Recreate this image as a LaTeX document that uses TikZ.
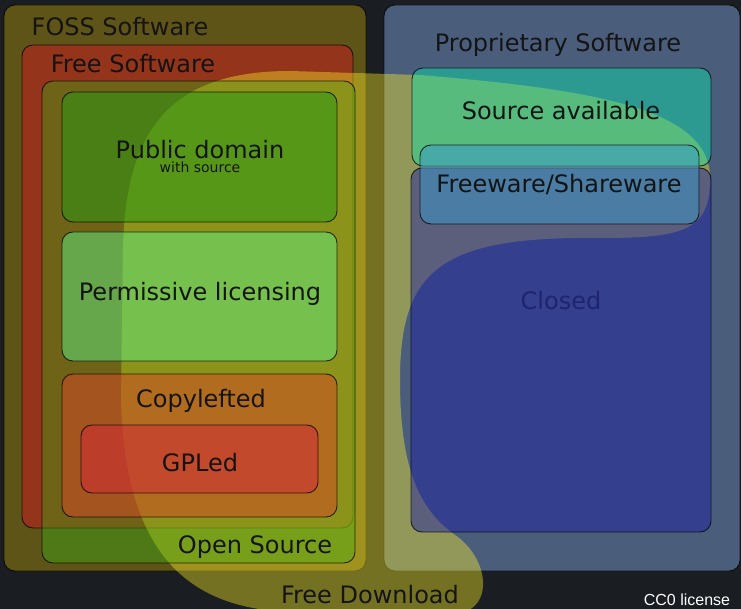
\documentclass[tikz,border=0pt]{standalone}
\usepackage{fontspec}
\setmainfont{DejaVu Sans}
\newfontfamily\ccfont{Liberation Sans}
\definecolor{bgc}{RGB}{26,29,33}
\definecolor{fossc}{RGB}{95,84,24}
\definecolor{propc}{RGB}{74,94,124}
\definecolor{fsc}{RGB}{147,52,27}
\definecolor{dlc}{RGB}{255,240,40}
\definecolor{osc}{RGB}{52,182,19}
\definecolor{pdc}{RGB}{36,156,20}
\definecolor{plc}{RGB}{94,251,140}
\definecolor{clc}{RGB}{218,70,36}
\definecolor{gplc}{RGB}{210,40,55}
\definecolor{sac}{RGB}{7,237,176}
\definecolor{fwc}{RGB}{58,154,205}
\definecolor{closedc}{RGB}{27,27,166}
\definecolor{closedtxt}{RGB}{30,36,110}
\begin{document}
\begin{tikzpicture}[x=1pt,y=-1pt,
  box/.style={draw=black,draw opacity=0.75,line width=0.9pt,rounded corners=11pt},
  lbl/.style={font=\fontsize{24}{28}\selectfont,anchor=base,inner sep=0pt,text=black!92}]
\useasboundingbox (0,0) rectangle (741,609);
\fill[bgc] (0,0) rectangle (741,609);
% opaque base boxes
\draw[box,fill=fossc] (4,5) rectangle (366,571);
\draw[box,fill=propc] (384,5) rectangle (740,571);
\draw[box,fill=fsc] (22,45) rectangle (353,528);
% Free Download blob
\fill[dlc,fill opacity=0.4]
  (300,612) .. controls (180,612) and (125,545) .. (121,400)
  -- (123,250) .. controls (125,130) and (170,71) .. (290,71)
  -- (420,75) .. controls (600,90) and (712,110) .. (710,180)
  .. controls (710,232) and (680,238) .. (600,238)
  .. controls (440,236) and (400,270) .. (400,380)
  .. controls (400,470) and (420,510) .. (455,535)
  .. controls (485,555) and (495,600) .. (465,612) -- cycle;
% semi-transparent boxes
\draw[box,fill=osc,fill opacity=0.37] (42,81) rectangle (355,563);
\draw[box,fill=pdc,fill opacity=0.5] (62,92) rectangle (337,222);
\draw[box,fill=plc,fill opacity=0.45] (62,232) rectangle (337,361);
\draw[box,fill=clc,fill opacity=0.5] (62,374) rectangle (337,517);
\draw[box,fill=gplc,fill opacity=0.5] (81,425) rectangle (318,493);
\draw[box,fill=sac,fill opacity=0.42] (412,68) rectangle (711,166);
\draw[box,fill=closedc,fill opacity=0.45] (411,168) rectangle (711,532);
\draw[box,fill=fwc,fill opacity=0.5] (420,145) rectangle (699,224);
% labels
\node[lbl] (foss) at (120,36) {FOSS Software};
\node[lbl] (fs) at (133,73) {Free Software};
\node[lbl] (pd) at (200,159) {Public domain};
\node[lbl,font=\fontsize{14}{16}\selectfont] (pdsrc) at (200,173) {with source};
\node[lbl] (pl) at (200,301) {Permissive licensing};
\node[lbl] (cl) at (201,407) {Copylefted};
\node[lbl] (gpl) at (200,471) {GPLed};
\node[lbl] (os) at (255,553) {Open Source};
\node[lbl] (fd) at (370,603) {Free Download};
\node[lbl] (prop) at (558,52) {Proprietary Software};
\node[lbl] (sa) at (561,120) {Source available};
\node[lbl] (fw) at (559,193) {Freeware/Shareware};
\node[lbl,text=closedtxt] (closed) at (561,309) {Closed};
\node[anchor=base,inner sep=0pt,text=white,font=\ccfont\fontsize{16}{18}\selectfont] (cc) at (687,605) {CC0 license};
\end{tikzpicture}
\end{document}
